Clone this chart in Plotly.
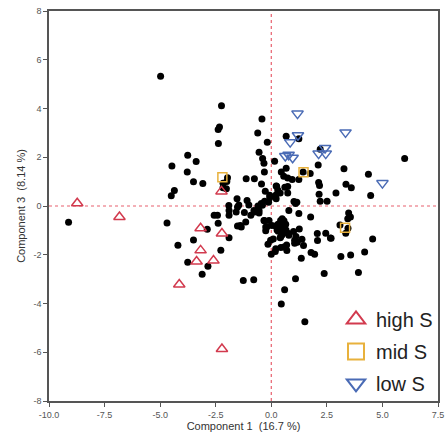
import plotly.graph_objects as go

# ---- data (Component 1, Component 3) ----
other_x = [-4.98, -4.47, -3.76, -3.38, -3.78, -3.50, -3.08, -4.36, -4.50, -2.24, -2.39, -2.33, -2.38,
           -9.12, -4.69, -4.20, -3.50, -3.76, -2.85, -3.11, -2.88, -2.39, -2.27,
           -1.97, -2.00, -2.17, -2.17, -2.02, -1.13, -0.76, -0.44,
           -0.42, -0.61, -0.18, -0.55, -0.39, -0.33, 0.15, -0.31, 0.67, 1.24, 2.20, 2.11, 3.27, 4.37, 6.00,
           -0.27, -0.07, -0.30, 0.22, 0.45, 0.56, 0.74, 0.94, 1.24, 0.74, 0.74, 0.40, 0.29, 0.21, 1.02, 1.15,
           2.13, 2.17, 2.15, 2.20, 2.51, 2.91, 3.36, 3.60, 4.47, 1.43, 1.75, 0.67, 0.61, 0.24, 0.22,
           -1.54, -1.46, -1.09, -1.01, -0.60, -0.45, -0.12, -1.91, -0.07,
           -1.90, -1.52, -1.58, -1.21, -0.76, -0.55, -1.90, -2.57, -2.42, -1.35, -1.15, -0.33, -0.25,
           0.20, 0.42, 0.49, 0.65, -1.90, 0.31, 0.42, 0.79, 0.57, 0.20, -0.15, -0.03, 1.05,
           -1.39, -0.30, -0.19, -0.25, 0.03, 0.30, 0.51, 0.60, 0.52, 0.66, 0.26, 0.09, 0.40, 0.48, 0.75,
           1.00, 1.26, 1.11, 1.38, 1.05, 1.17, 1.45, 0.69, 0.43, 0.70, 0.18, 0.00, 1.35, 1.79, 1.95, 2.08,
           2.45, 2.69, 3.13, 3.57, 4.20, 4.56, 3.35, 3.45, 3.09, -1.26, -0.79, 1.09, 2.38, 3.92, 0.60, 0.45,
           1.51, 1.24, 1.77, 0.79, 1.09, 0.49, 0.57, -0.10, 3.48, 3.56, 3.44, 2.07, 2.66, -0.78, -0.92,
           -0.55, -0.40, -1.52]
other_y = [5.32, 1.64, 2.08, 1.83, 1.39, 1.00, 0.92, 0.64, 0.42, 4.11, 3.14, 3.24, 2.56,
           -0.67, -0.70, -1.61, -1.39, -2.31, -2.47, -2.80, -0.95, -0.71, -1.82,
           1.16, 1.01, 0.93, 0.75, 0.71, 1.12, 1.12, 0.90,
           3.57, 2.99, 2.62, 2.21, 1.95, 1.75, 1.84, 1.39, 2.86, 2.76, 2.33, 1.68, 1.53, 1.30, 1.95,
           0.61, 0.44, 0.20, 0.82, 1.39, 1.22, 1.15, 1.09, 1.09, 0.80, 0.53, 0.53, 0.66, 0.45, 0.18, 0.15,
           0.96, 0.84, 0.48, 0.19, 0.19, 0.53, 0.89, 0.75, 0.43, 1.39, 1.33, 1.55, 0.77, 0.81, 0.30,
           0.30, 0.04, 0.23, 0.04, 0.00, 0.10, 0.15, 0.02, 0.34,
           -0.18, -0.04, -0.25, -0.27, -0.25, -0.29, -0.38, -0.38, -0.38, -0.86, -0.66, -0.59, -0.86,
           -0.82, -0.59, -0.86, -0.75, -1.30, -1.04, -1.27, -1.20, -1.68, -1.75, -1.57, -1.41, -1.41,
           -0.80, -0.61, -0.85, -1.02, -0.80, -0.75, -0.64, -0.80, -1.05, -0.98, -0.98, -1.35, -1.30, -1.19, -1.12,
           -1.05, -0.94, -1.25, -1.36, -1.53, -1.49, -1.62, -1.60, -1.70, -1.83, -1.87, -1.98, -2.14, -1.91, -1.98, -1.42,
           -1.12, -1.32, -2.07, -2.01, -1.89, -1.35, -1.12, -0.91, -0.78, -3.06, -3.03, -2.98, -2.77, -2.73, -3.44, -4.02,
           -4.75, -0.31, -0.45, -0.18, 0.10, -0.52, -0.61, -0.59, -0.29, -0.45, -0.52, -1.13, -1.31, -0.18, -0.38,
           -0.18, 0.03, -0.82]

high_x = [-8.73, -6.83, -3.18, -3.18, -3.36, -2.60, -4.14, -2.22, -2.22, -2.24]
high_y = [0.11, -0.45, -0.91, -1.82, -2.28, -2.24, -3.22, -1.13, -5.87, 0.60]

mid_x = [-2.20, 1.45, 3.32]
mid_y = [1.18, 1.38, -0.89]

low_x = [1.18, 3.34, 1.20, 0.85, 0.63, 0.78, 0.96, 2.42, 2.13, 2.45, 5.00]
low_y = [3.79, 3.02, 2.90, 2.62, 2.05, 2.10, 1.98, 2.38, 2.15, 2.15, 0.94]

x_tickvals = [-10.0, -7.5, -5.0, -2.5, 0.0, 2.5, 5.0, 7.5]
x_ticktext = ["-10.0", "-7.5", "-5.0", "-2.5", "0.0", "2.5", "5.0", "7.5"]
y_tickvals = [-8, -6, -4, -2, 0, 2, 4, 6, 8]
y_ticktext = ["-8", "-6", "-4", "-2", "0", "2", "4", "6", "8"]

RED = "#D23A4E"
ORANGE = "#E8B13C"
BLUE = "#4A6BB5"
REFLINE = "#E8606E"
FONT = "Liberation Sans, Arial, sans-serif"

fig = go.Figure()

fig.add_trace(go.Scatter(x=other_x, y=other_y, mode="markers", showlegend=False,
                         marker=dict(color="black", size=7)))
fig.add_trace(go.Scatter(x=high_x, y=high_y, mode="markers", showlegend=False,
                         marker=dict(symbol="triangle-up-open", color=RED, size=10,
                                     line=dict(width=1.5, color=RED))))
fig.add_trace(go.Scatter(x=mid_x, y=mid_y, mode="markers", showlegend=False,
                         marker=dict(symbol="square-open", color=ORANGE, size=9,
                                     line=dict(width=1.5, color=ORANGE))))
fig.add_trace(go.Scatter(x=low_x, y=low_y, mode="markers", showlegend=False,
                         marker=dict(symbol="triangle-down-open", color=BLUE, size=10,
                                     line=dict(width=1.5, color=BLUE))))

# legend-only entries with larger symbols
for name, sym, col, grp in [("high S", "triangle-up-open", RED, "a"),
                            ("mid S", "square-open", ORANGE, "b"),
                            ("low S", "triangle-down-open", BLUE, "c")]:
    fig.add_trace(go.Scatter(x=[None], y=[None], mode="markers", name=name, legendgroup=grp,
                             marker=dict(symbol=sym, color=col, size=16,
                                         line=dict(width=2, color=col))))

fig.add_hline(y=0, line=dict(color=REFLINE, width=1.2, dash="dot"), layer="below")
fig.add_vline(x=0, line=dict(color=REFLINE, width=1.2, dash="dot"), layer="below")

axis_common = dict(showgrid=False, zeroline=False, showline=True, linecolor="#555555",
                   linewidth=1.5, mirror=True, ticks="outside", ticklen=4, tickcolor="#555555",
                   automargin=False,
                   tickfont=dict(size=9, color="#555555", family=FONT))

fig.update_xaxes(range=[-10, 7.5], tickvals=x_tickvals, ticktext=x_ticktext,
                 title=dict(text="Component 1  (16.7 %)", font=dict(size=11, color="#333333", family=FONT),
                            standoff=4),
                 **axis_common)
fig.update_yaxes(range=[-8, 8], tickvals=y_tickvals, ticktext=y_ticktext,
                 title=dict(text="Component 3  (8.14 %)", font=dict(size=11, color="#333333", family=FONT),
                            standoff=6),
                 **axis_common)

fig.update_layout(
    width=446, height=436,
    margin=dict(l=49, r=8, t=11, b=35),
    plot_bgcolor="white", paper_bgcolor="white",
    font=dict(family=FONT),
    legend=dict(x=1.0, y=-0.005, xanchor="right", yanchor="bottom",
                font=dict(size=20, color="#222222", family=FONT),
                bgcolor="rgba(0,0,0,0)", traceorder="grouped", tracegroupgap=3,
                itemwidth=30),
)

fig.write_html("out.html")
